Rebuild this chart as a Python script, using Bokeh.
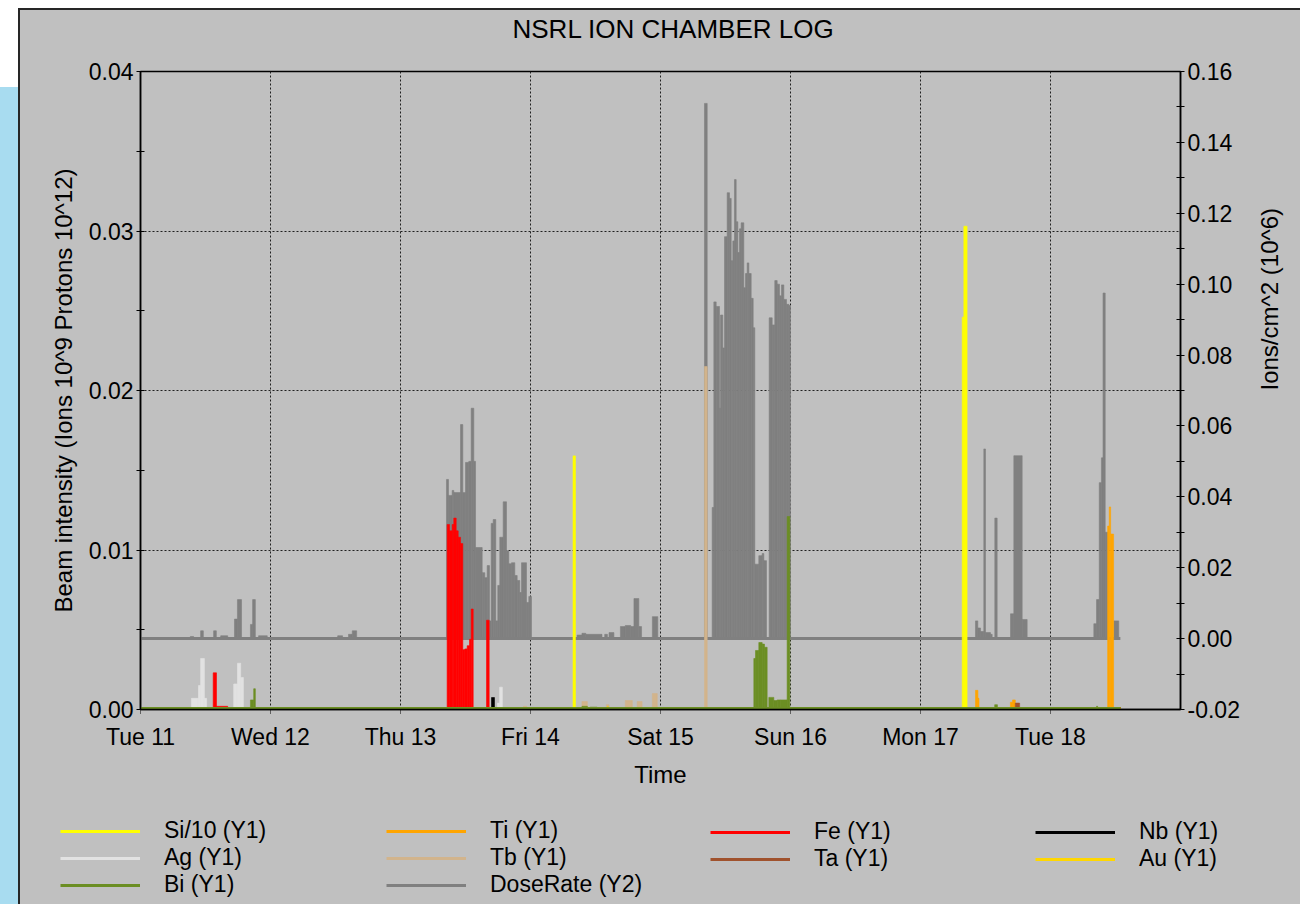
import math
from bokeh.plotting import figure
from bokeh.models import (Range1d, LinearAxis, FixedTicker, NumeralTickFormatter,
                          Legend, LegendItem, Spacer, Title)
from bokeh.layouts import row, column
from bokeh.embed import file_html
from bokeh.resources import INLINE

# ---------------- data ----------------
# time in hours from Tue 11 00:00
day_ticks = [0, 24, 48, 72, 96, 120, 144, 168]
day_labels = ["Tue 11", "Wed 12", "Thu 13", "Fri 14", "Sat 15", "Sun 16", "Mon 17", "Tue 18"]
log_start = 0.0
log_end = 180.9

y1_ticks = [0.00, 0.01, 0.02, 0.03, 0.04]
y1_minor = [0.005, 0.015, 0.025, 0.035]
y2_ticks = [-0.02, 0.00, 0.02, 0.04, 0.06, 0.08, 0.10, 0.12, 0.14, 0.16]
y2_minor = [-0.01, 0.01, 0.03, 0.05, 0.07, 0.09, 0.11, 0.13, 0.15]

# each series: (start hour, end hour, value)
si10 = [(79.85, 80.30, 0.0159), (151.7, 152.0, 0.0246), (152.0, 152.6, 0.0303)]
ag = [(9.4, 10.7, 0.0007), (10.7, 11.1, 0.0015), (11.1, 11.8, 0.0032), (11.8, 12.2, 0.0007),
      (17.2, 17.9, 0.0016), (17.9, 18.5, 0.0029), (18.5, 19.0, 0.0020), (36.3, 36.6, 0.0001),
      (65.9, 66.3, 0.0004), (66.3, 66.8, 0.0014)]
bi = [(20.3, 20.9, 0.0006), (20.9, 21.2, 0.0013), (39.1, 39.7, 0.0001), (81.5, 82.5, 0.0002),
      (83.0, 84.3, 0.00015), (113.23, 113.54, 0.0032), (113.54, 114.15, 0.0037),
      (114.15, 114.77, 0.0042), (114.77, 115.20, 0.0041), (115.20, 115.69, 0.0039),
      (116.00, 116.92, 0.00076), (116.92, 117.54, 0.00056), (117.54, 118.15, 0.0006),
      (118.15, 119.38, 0.0006), (119.38, 119.88, 0.0121), (157.7, 158.2, 0.0003),
      (176.5, 176.7, 0.0002)]
ti = [(154.15, 154.6, 0.0012), (154.6, 154.8, 0.0007), (160.6, 161.0, 0.00046),
      (161.0, 161.5, 0.0006), (178.55, 178.85, 0.0115), (178.85, 179.1, 0.0127),
      (179.1, 179.65, 0.0110)]
tb = [(70.7, 71.3, 0.0002), (81.5, 82.5, 0.0005), (86.0, 86.5, 0.0003), (89.5, 90.8, 0.00056),
      (91.7, 92.6, 0.0005), (94.5, 95.4, 0.0010), (104.12, 104.62, 0.0215)]
fe = [(13.42, 14.03, 0.0023), (14.03, 16.1, 0.0002), (56.61, 57.05, 0.0116),
      (57.05, 57.54, 0.0112), (57.54, 57.84, 0.0116), (57.84, 58.28, 0.0120),
      (58.28, 58.65, 0.0112), (58.65, 59.08, 0.0108), (59.08, 59.50, 0.0104),
      (59.50, 59.88, 0.00375), (59.88, 60.31, 0.0038), (60.31, 60.74, 0.0040),
      (60.74, 61.05, 0.0044), (61.05, 61.42, 0.0063), (63.88, 64.37, 0.0056)]
ta = [(161.5, 162.3, 0.0004)]
nb = [(64.8, 65.35, 0.00075), (179.2, 179.7, 0.0001)]
au = [(86.2, 86.35, 0.0002)]
dose = [
    (9.2, 9.8, 0.0006), (11.1, 11.6, 0.0022), (13.5, 14.0, 0.0022), (14.8, 16.1, 0.0008),
    (17.35, 17.9, 0.0055), (17.9, 18.65, 0.0110), (20.3, 20.7, 0.0040), (20.7, 21.2, 0.0110),
    (21.8, 23.4, 0.0008), (36.4, 37.3, 0.0008), (38.4, 39.1, 0.0012), (39.1, 39.9, 0.0022),
    (56.49, 56.86, 0.0449), (56.86, 57.54, 0.0404), (57.54, 57.84, 0.0418),
    (57.84, 59.08, 0.0412), (59.08, 59.50, 0.0604), (59.50, 60.00, 0.0412),
    (60.00, 60.61, 0.0497), (60.61, 61.05, 0.0500), (61.05, 61.53, 0.0650),
    (61.53, 61.85, 0.0500), (61.85, 63.08, 0.0257), (63.08, 63.56, 0.0186),
    (63.56, 64.00, 0.0172), (64.00, 64.43, 0.0206), (64.43, 64.74, 0.0050),
    (64.74, 65.11, 0.0325), (65.11, 65.59, 0.0336), (65.59, 65.96, 0.0050),
    (65.96, 66.33, 0.0150), (66.33, 66.96, 0.0286), (66.96, 67.57, 0.0386),
    (67.57, 67.99, 0.0248), (67.99, 68.49, 0.0211), (68.49, 69.10, 0.0214),
    (69.10, 69.54, 0.0178), (69.54, 70.02, 0.0164), (70.02, 70.34, 0.0130),
    (70.34, 71.26, 0.0214), (71.26, 71.69, 0.0102), (71.69, 72.18, 0.0119),
    (80.6, 81.5, 0.0010), (81.5, 82.2, 0.0015), (82.2, 85.2, 0.0012), (85.7, 86.2, 0.0012),
    (86.5, 87.4, 0.0017), (88.6, 89.5, 0.0034), (89.5, 90.5, 0.0037), (90.5, 91.1, 0.0034),
    (91.1, 92.0, 0.0113), (92.0, 92.5, 0.0034), (94.5, 95.5, 0.0062),
    (104.12, 104.62, 0.151), (105.54, 105.85, 0.037), (105.85, 106.28, 0.095),
    (106.28, 106.89, 0.0937), (106.89, 107.08, 0.065), (107.08, 107.50, 0.0913),
    (107.50, 107.82, 0.082), (107.82, 108.31, 0.1134), (108.31, 108.74, 0.1258),
    (108.74, 109.05, 0.1242), (109.05, 109.35, 0.1066), (109.35, 109.66, 0.1122),
    (109.66, 109.97, 0.1295), (109.97, 110.28, 0.1176), (110.28, 110.58, 0.1089),
    (110.58, 110.89, 0.1156), (110.89, 111.38, 0.1173), (111.38, 111.69, 0.0990),
    (111.69, 112.00, 0.1030), (112.00, 112.31, 0.1060), (112.31, 112.74, 0.1030),
    (112.74, 113.11, 0.0960), (113.11, 113.41, 0.0877), (113.41, 114.15, 0.0210),
    (114.15, 114.77, 0.0234), (114.77, 115.08, 0.0240), (115.08, 115.57, 0.0220),
    (116.06, 116.62, 0.0905), (116.62, 117.10, 0.0885), (117.10, 117.54, 0.1010),
    (117.54, 117.97, 0.1000), (117.97, 118.34, 0.0967), (118.34, 118.77, 0.0998),
    (118.77, 119.26, 0.0957), (119.26, 119.69, 0.0943), (119.69, 120.00, 0.0940),
    (154.15, 154.58, 0.0050), (154.58, 155.08, 0.0030), (155.08, 155.69, 0.0020),
    (155.69, 156.00, 0.0535), (156.00, 156.92, 0.0017), (156.92, 157.23, 0.0012),
    (157.72, 158.15, 0.0340), (160.62, 161.23, 0.0070), (161.23, 162.77, 0.0516),
    (162.77, 163.69, 0.0054),
    (176.0, 176.5, 0.0042), (176.5, 177.0, 0.0110), (177.0, 177.4, 0.0440),
    (177.4, 177.7, 0.0510), (177.7, 178.1, 0.0975), (178.1, 178.6, 0.0300),
    (179.7, 180.6, 0.0050),
]

# ---------------- styling ----------------
BG = "#C0C0C0"
BLUE = "#A8DCF0"
EDGE = "#262626"
FONT = "Liberation Sans"
colors = {
    "Si/10": "#FFFF00", "Ag": "#E2E2E2", "Bi": "#6B8E23", "Ti": "#FFA500",
    "Tb": "#D2B48C", "DoseRate": "#808080", "Fe": "#FF0000", "Ta": "#A0522D",
    "Nb": "#000000", "Au": "#FFD700",
}

p = figure(width=1280, height=790, output_backend="svg", toolbar_location=None, tools="",
           title=None, x_range=Range1d(0, 192), y_range=Range1d(0, 0.04),
           min_border_left=120, min_border_right=120, min_border_top=61, min_border_bottom=91,
           background_fill_color=BG, border_fill_color=BG)
p.extra_y_ranges = {"y2": Range1d(-0.02, 0.16)}

# empty gap next to the frame, then the title further out
p.add_layout(Title(text=" ", text_font_size="2px", standoff=24, text_color=BG), "above")
p.add_layout(Title(text="NSRL ION CHAMBER LOG", align="left", offset=372, standoff=0,
                   text_font=FONT, text_font_size="26px", text_font_style="normal",
                   text_color="black"), "above")

p.outline_line_color = "black"
p.outline_line_width = 1.5

def style_axis(ax):
    ax.axis_line_color = "black"
    ax.axis_line_width = 1.5
    ax.major_tick_line_color = "black"
    ax.minor_tick_line_color = "black"
    ax.major_label_text_font = FONT
    ax.major_label_text_font_size = "23px"
    ax.major_label_text_color = "black"
    ax.axis_label_text_font = FONT
    ax.axis_label_text_font_size = "24px"
    ax.axis_label_text_font_style = "normal"
    ax.axis_label_text_color = "black"

xa = p.xaxis[0]
xa.ticker = FixedTicker(ticks=day_ticks, minor_ticks=[])
xa.major_label_overrides = {t: l for t, l in zip(day_ticks, day_labels)}
xa.axis_label = "Time"
style_axis(xa)
xa.major_tick_in = 0
xa.major_tick_out = 4
xa.major_tick_line_dash = "1 1"
xa.major_label_standoff = 10
xa.axis_label_standoff = 8

ya = p.yaxis[0]
ya.ticker = FixedTicker(ticks=y1_ticks, minor_ticks=y1_minor)
ya.formatter = NumeralTickFormatter(format="0.00")
ya.axis_label = "Beam intensity (Ions 10^9 Protons 10^12)"
style_axis(ya)
ya.major_tick_in = 4
ya.major_tick_out = 4
ya.minor_tick_in = 4
ya.minor_tick_out = 4
ya.major_label_standoff = 3
ya.axis_label_standoff = 9

ra = LinearAxis(y_range_name="y2", ticker=FixedTicker(ticks=y2_ticks, minor_ticks=y2_minor),
                formatter=NumeralTickFormatter(format="0.00"),
                axis_label="Ions/cm^2 (10^6)")
style_axis(ra)
ra.major_tick_in = 4
ra.major_tick_out = 4
ra.minor_tick_in = 4
ra.minor_tick_out = 4
ra.major_label_standoff = 3
ra.axis_label_standoff = 27
ra.axis_label_orientation = math.pi / 2
p.add_layout(ra, "right")

for g in (p.xgrid[0], p.ygrid[0]):
    g.grid_line_color = "#202020"
    g.grid_line_dash = "2 2"
    g.grid_line_width = 1
    g.grid_line_alpha = 1.0

def bars(series, color, yname="default"):
    p.quad(left=[s[0] for s in series], right=[s[1] for s in series],
           bottom=0, top=[s[2] for s in series],
           fill_color=color, line_color=color, line_width=0.6, y_range_name=yname)

def baseline(color, yname="default", width=3):
    return p.line(x=[log_start, log_end], y=[0, 0], line_color=color, line_width=width,
                  y_range_name=yname)

# DoseRate (Y2) first, underneath
bars(dose, colors["DoseRate"], "y2")
baseline(colors["DoseRate"], "y2")

y1_series = [("Si/10", si10), ("Ag", ag), ("Ti", ti), ("Tb", tb), ("Fe", fe),
             ("Ta", ta), ("Nb", nb), ("Au", au), ("Bi", bi)]
for name, s in y1_series:
    bars(s, colors[name])
for name, _ in y1_series:
    baseline(colors[name], width=5)

# ---------------- legend strip (separate canvas below the plot) ----------------
p2 = figure(width=1280, height=104, output_backend="svg", toolbar_location=None, tools="",
            x_range=Range1d(0, 1), y_range=Range1d(0, 1),
            x_axis_type=None, y_axis_type=None,
            min_border_left=0, min_border_right=0, min_border_top=0, min_border_bottom=0,
            background_fill_color=BG, border_fill_color=BG, outline_line_color=None)
p2.grid.visible = False

keys = {}
for name in colors:
    # legend keys only; their points lie outside the strip's ranges
    keys[name] = p2.line(x=[5, 6], y=[5, 6], line_color=colors[name], line_width=3)

columns_spec = [
    (["Si/10", "Ag", "Bi"], 40, 6),
    (["Ti", "Tb", "DoseRate"], 366, 6),
    (["Fe", "Ta"], 690, 32),
    (["Nb", "Au"], 1015, 32),
]
for names, vx, vy in columns_spec:
    items = [LegendItem(label=f"{n} ({'Y2' if n == 'DoseRate' else 'Y1'})", renderers=[keys[n]])
             for n in names]
    lg = Legend(items=items, location=(vx, vy), orientation="vertical",
                glyph_width=80, glyph_height=26, label_height=26, label_standoff=24,
                spacing=0, padding=0, margin=0, border_line_color=None,
                background_fill_alpha=0, label_text_font=FONT,
                label_text_font_size="23px", label_text_color="black")
    p2.add_layout(lg, "center")

def box(w, h, c):
    return Spacer(width=w, height=h, styles={"background-color": c})

grey_bg = {"background-color": BG}
top_row = row(column(box(18, 87, "white"), box(18, 713, BLUE)),
              column(box(2, 8, "white"), box(2, 792, EDGE)),
              column(box(1280, 8, "white"), box(1280, 2, EDGE), p, styles=grey_bg),
              styles=grey_bg)
bottom_row = row(box(18, 104, BLUE), box(2, 104, EDGE), p2, styles=grey_bg)
layout = column(top_row, bottom_row, styles=grey_bg)

open("out.html", "w").write(file_html(layout, INLINE))
